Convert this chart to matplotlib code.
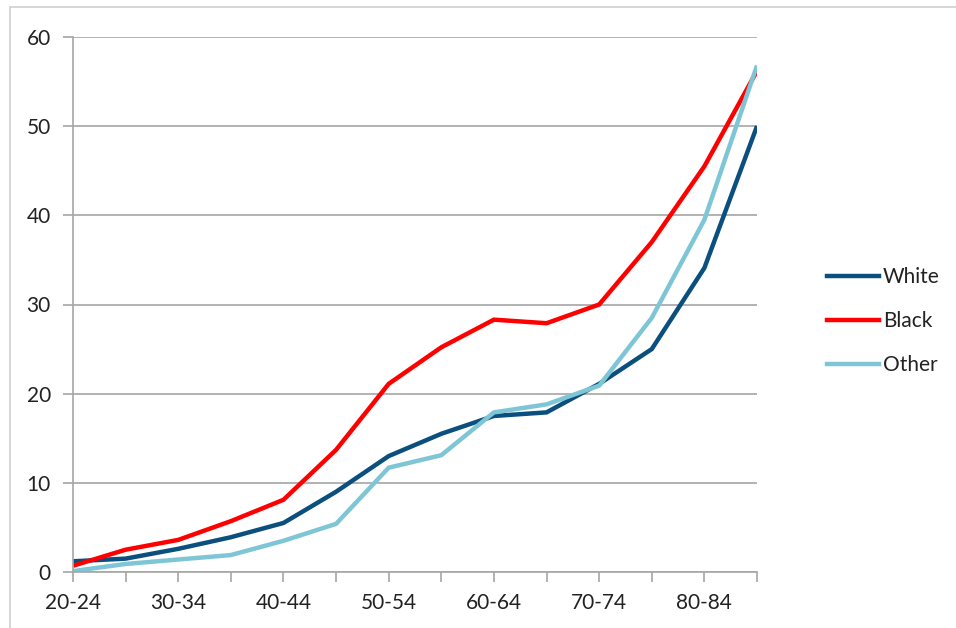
import matplotlib
matplotlib.use("Agg")
import matplotlib.pyplot as plt
from matplotlib.patches import Rectangle
from matplotlib.lines import Line2D

categories = ["20-24", "25-29", "30-34", "35-39", "40-44", "45-49", "50-54",
              "55-59", "60-64", "65-69", "70-74", "75-79", "80-84", "85+"]
white = [1.2, 1.5, 2.6, 3.9, 5.5, 9.0, 13.0, 15.5, 17.5, 17.9, 21.1, 25.0, 34.1, 50.0]
black = [0.7, 2.5, 3.6, 5.7, 8.1, 13.7, 21.1, 25.2, 28.3, 27.9, 30.0, 37.0, 45.5, 56.2]
other = [0.1, 0.9, 1.4, 1.9, 3.5, 5.4, 11.7, 13.1, 17.9, 18.8, 20.9, 28.5, 39.5, 56.8]
series_names = ["White", "Black", "Other"]
colors = ["#0b4f7f", "#ff0000", "#7ec6d6"]

plt.rcParams['font.family'] = ['Lato', 'DejaVu Sans']

W, H = 956, 628
fig = plt.figure(figsize=(W/100, H/100), dpi=100)
fig.patches.append(Rectangle((10/W, -0.1), 1.0, 1.1 - 7/H, transform=fig.transFigure,
                             fill=False, edgecolor="#d0d0d0", linewidth=1.2))

ax = fig.add_axes([73/W, (H-572)/H, (757-73)/W, (572-37)/H])
x = list(range(len(categories)))
for vals, name, c in zip([white, black, other], series_names, colors):
    ax.plot(x, vals, color=c, linewidth=3.2, label=name, solid_capstyle="butt",
            solid_joinstyle="miter")

ax.set_xlim(0, len(categories) - 1)
ax.set_ylim(0, 60)
ax.set_yticks(range(0, 61, 10))
ax.set_xticks(x)
ax.set_xticklabels([c if i % 2 == 0 else "" for i, c in enumerate(categories)])
ax.grid(axis="y", color="#a6a6a6", linewidth=1.2)
ax.set_axisbelow(True)
for s in ["top", "right"]:
    ax.spines[s].set_visible(False)
for s in ["left", "bottom"]:
    ax.spines[s].set_color("#a6a6a6")
    ax.spines[s].set_linewidth(1.2)
ax.tick_params(axis="both", color="#a6a6a6", width=1.2, length=7, labelsize=15,
               labelcolor="#222222")
ax.tick_params(axis="y", pad=9)
ax.tick_params(axis="x", pad=8)

handles = [Line2D([0], [0], color=c, linewidth=3.2) for c in colors]
fig.legend(handles, series_names, loc="center left", bbox_to_anchor=(808/W, 1 - 321/H),
           frameon=False, fontsize=15, handlelength=2.5, handletextpad=0.2,
           labelspacing=1.15, labelcolor="#222222")

fig.savefig("out.png", dpi=100)
